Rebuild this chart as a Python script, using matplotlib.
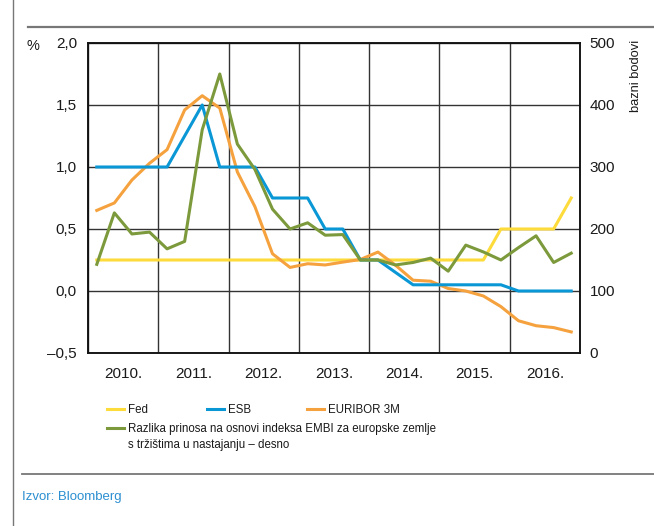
import matplotlib
matplotlib.use("Agg")
import matplotlib.pyplot as plt
from matplotlib.ticker import FixedLocator, FuncFormatter
from matplotlib.lines import Line2D

plt.rcParams['font.family'] = ['Liberation Sans Narrow', 'Liberation Sans', 'DejaVu Sans']

# ---- data (quarterly, 2010 Q1 .. 2016 Q4) ----
years = [2010, 2011, 2012, 2013, 2014, 2015, 2016]
quarters = [y + (q - 0.5) / 4 for y in years for q in range(1, 5)]

fed = [0.25] * 23 + [0.5, 0.5, 0.5, 0.5, 0.75]
esb = [1.0, 1.0, 1.0, 1.0, 1.0, 1.25, 1.5, 1.0,
       1.0, 1.0, 0.75, 0.75, 0.75, 0.5, 0.5, 0.25,
       0.25, 0.15, 0.05, 0.05, 0.05, 0.05, 0.05, 0.05,
       0.0, 0.0, 0.0, 0.0]
euribor = [0.65, 0.71, 0.895, 1.03, 1.14, 1.46, 1.575, 1.475,
           0.96, 0.68, 0.30, 0.19, 0.22, 0.21, 0.233, 0.254,
           0.314, 0.208, 0.087, 0.079, 0.02, 0.0, -0.04, -0.126,
           -0.24, -0.28, -0.295, -0.33]
embi = [143, 226, 192, 195, 168, 180, 360, 450,
        337, 296, 232, 200, 210, 190, 191, 150,
        150, 142, 146, 153, 132, 174, 163, 150,
        170, 189, 146, 161]

left_ticks = [-0.5, 0.0, 0.5, 1.0, 1.5, 2.0]
right_ticks = [0, 100, 200, 300, 400, 500]
year_labels = ['2010.', '2011.', '2012.', '2013.', '2014.', '2015.', '2016.']

c_fed = '#fddb3a'
c_esb = '#0a97d5'
c_eur = '#f5a23e'
c_embi = '#7c9a3b'

W, H = 654, 526
fig = plt.figure(figsize=(W / 100, H / 100), dpi=100)

def fx(px):
    return px / W

def fy(py):
    return 1 - py / H

ax = fig.add_axes([fx(88), fy(353), fx(580) - fx(88), fy(43) - fy(353)])
ax2 = ax.twinx()

ax.set_xlim(2010, 2017)
ax.set_ylim(-0.5, 2.0)
ax2.set_ylim(0, 500)

lw = 2.2
l_fed, = ax.plot(quarters, fed, color=c_fed, lw=lw, zorder=3)
l_esb, = ax.plot(quarters, esb, color=c_esb, lw=lw, zorder=4)
l_eur, = ax.plot(quarters, euribor, color=c_eur, lw=lw, zorder=3)
l_embi, = ax2.plot(quarters, embi, color=c_embi, lw=lw, zorder=5)

# grid
ax.xaxis.set_major_locator(FixedLocator(years + [2017]))
ax.xaxis.set_major_formatter(FuncFormatter(lambda v, p: ''))
ax.xaxis.set_minor_locator(FixedLocator([y + 0.5 for y in years]))
ax.xaxis.set_minor_formatter(FuncFormatter(lambda v, p: year_labels[int(v - 2010)] if 0 <= int(v - 2010) < 7 else ''))
ax.yaxis.set_major_locator(FixedLocator(left_ticks))
ax.yaxis.set_major_formatter(FuncFormatter(lambda v, p: ('%.1f' % v).replace('.', ',').replace('-', '\u2013')))
ax2.yaxis.set_major_locator(FixedLocator(right_ticks))
ax2.yaxis.set_major_formatter(FuncFormatter(lambda v, p: '%d' % v))

ax.grid(True, which='major', color='#333333', lw=1.0, zorder=1)
ax.set_axisbelow(True)
ax.tick_params(axis='both', which='both', length=0, labelsize=11, colors='#1a1a1a')
ax.tick_params(axis='x', which='minor', pad=10)
ax.tick_params(axis='y', pad=8)
ax2.tick_params(axis='y', length=0, labelsize=11, pad=7, colors='#1a1a1a')

for a in (ax, ax2):
    for s in a.spines.values():
        s.set_color('#111111')
        s.set_linewidth(1.1)

# axis unit labels
fig.text(fx(33), fy(46), '%', ha='center', va='center', fontsize=10.5, color='#1a1a1a')
fig.text(fx(636), fy(40), 'bazni bodovi', rotation=90, ha='center', va='top',
         fontsize=9.3, color='#1a1a1a')

# frame lines
fig.add_artist(Line2D([fx(13), fx(13)], [0, 1], color='#777777', lw=1.0))
fig.add_artist(Line2D([fx(28), 1], [fy(27), fy(27)], color='#777777', lw=1.6))
fig.add_artist(Line2D([fx(22), 1], [fy(474), fy(474)], color='#777777', lw=1.3))

# legend
lfs = 8.3
lkw = dict(frameon=False, borderpad=0, borderaxespad=0, handlelength=1.5,
           handletextpad=0.3, fontsize=lfs, loc='center left')
def leg(handle, label, x, y):
    lg = fig.legend([handle], [label], bbox_to_anchor=(fx(x), fy(y)), **lkw)
    for t in lg.get_texts():
        t.set_color('#1a1a1a')
    return lg

leg(l_fed, 'Fed', 107, 410)
leg(l_esb, 'ESB', 207, 410)
leg(l_eur, 'EURIBOR 3M', 307, 410)
leg(l_embi, 'Razlika prinosa na osnovi indeksa EMBI za europske zemlje', 107, 429)
fig.text(fx(128), fy(445), 's tržištima u nastajanju \u2013 desno', ha='left', va='center',
         fontsize=lfs, color='#1a1a1a')

fig.text(fx(22), fy(497), 'Izvor: Bloomberg', ha='left', va='center', fontsize=9.5, color='#2b8fd0')

fig.savefig('out.png', dpi=100)
